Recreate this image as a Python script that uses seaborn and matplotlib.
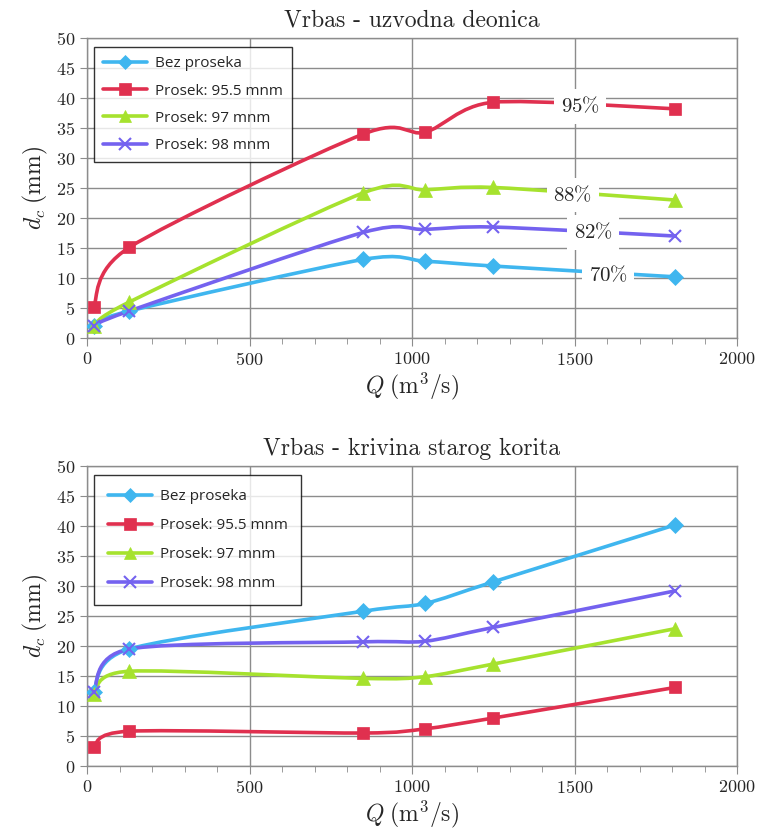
import numpy as np
import matplotlib
matplotlib.use('Agg')
import matplotlib.pyplot as plt
import seaborn as sns
from matplotlib.path import Path
from matplotlib.patches import PathPatch
from matplotlib.lines import Line2D

# =========================
# DATA
# =========================

q = [20, 130, 850, 1040, 1250, 1810]

series_names = ['Bez proseka', 'Prosek: 95.5 mnm', 'Prosek: 97 mnm', 'Prosek: 98 mnm']

# top chart - uzvodna deonica
top_bez = [2.0, 4.5, 13.1, 12.8, 12.0, 10.2]
top_955 = [5.2, 15.1, 34.0, 34.3, 39.3, 38.2]
top_97 = [2.0, 6.0, 24.2, 24.7, 25.1, 23.0]
top_98 = [2.0, 4.5, 17.6, 18.1, 18.5, 17.0]

# bottom chart - krivina starog korita
bot_bez = [12.3, 19.5, 25.8, 27.1, 30.7, 40.2]
bot_955 = [3.2, 5.8, 5.5, 6.2, 8.0, 13.1]
bot_97 = [12.0, 15.8, 14.6, 14.9, 17.0, 22.9]
bot_98 = [12.3, 19.5, 20.7, 20.8, 23.1, 29.2]

# percentage labels on the top chart
pct_labels = ['95', '88', '82', '70']
pct_x = [1517, 1495, 1557, 1603]
pct_y = [38.6, 23.9, 17.6, 10.5]

colors = ['#3fb6ef', '#e0304f', '#a6e22e', '#7462ef']
markers = ['D', 's', '^', 'x']
msizes = [8, 9, 10, 9]

# =========================
# STYLE
# =========================

sns.set_style('white')
plt.rcParams['font.family'] = 'serif'
plt.rcParams['font.serif'] = ['cmr10']
plt.rcParams['mathtext.fontset'] = 'cm'
plt.rcParams['axes.formatter.use_mathtext'] = True


def smooth_path(x, y, k=0.14):
    # excel-like smoothed line (cubic bezier, catmull-rom tangents)
    pts = np.column_stack([x, y]).astype(float)
    n = len(pts)
    verts = [pts[0]]
    codes = [Path.MOVETO]
    for i in range(n - 1):
        p0 = pts[i - 1] if i > 0 else pts[i]
        p1 = pts[i]
        p2 = pts[i + 1]
        p3 = pts[i + 2] if i + 2 < n else pts[i + 1]
        c1 = p1 + (p2 - p0) * k
        c2 = p2 - (p3 - p1) * k
        verts += [c1, c2, p2]
        codes += [Path.CURVE4] * 3
    return Path(verts, codes)


def draw_chart(ax, data, title, lspace, bpad):
    for vals, c, m, ms in zip(data, colors, markers, msizes):
        patch = PathPatch(smooth_path(q, vals), facecolor='none', edgecolor=c,
                          lw=2.6, capstyle='round', joinstyle='round', zorder=3)
        ax.add_patch(patch)
        sns.lineplot(x=q, y=vals, ax=ax, color=c, marker=m, markersize=ms,
                     linestyle='', markeredgecolor=c,
                     markeredgewidth=1.5 if m == 'x' else 0.5, zorder=4)

    ax.set_xlim(0, 2000)
    ax.set_ylim(0, 50)
    ax.set_xticks(np.arange(0, 2001, 500))
    ax.set_xticks(np.arange(0, 2001, 100), minor=True)
    ax.set_yticks(np.arange(0, 51, 5))
    ax.grid(True, which='major', color='#8c8c8c', lw=1.0)
    ax.set_axisbelow(True)
    for s in ax.spines.values():
        s.set_color('#8c8c8c')
        s.set_linewidth(1.0)
    ax.tick_params(axis='both', which='both', direction='out', color='#8c8c8c',
                   labelsize=13, bottom=True, left=True)
    ax.tick_params(axis='x', which='major', length=6)
    ax.tick_params(axis='x', which='minor', length=4)
    ax.tick_params(axis='y', which='major', length=5)
    ax.set_title(title, fontsize=17, pad=8)
    ax.set_xlabel(r'$Q\;(\mathrm{m}^3/\mathrm{s})$', fontsize=17, labelpad=2)
    ax.set_ylabel(r'$d_c\;(\mathrm{mm})$', fontsize=17, labelpad=4)

    handles = [Line2D([0], [0], color=c, lw=2.6, marker=m, markersize=ms * 0.9,
                      markeredgecolor=c, markeredgewidth=1.5 if m == 'x' else 0.5)
               for c, m, ms in zip(colors, markers, msizes)]
    leg = ax.legend(handles, series_names, loc='upper left',
                    bbox_to_anchor=(0.006, 0.98), frameon=True, fancybox=False,
                    prop={'family': 'Open Sans', 'size': 11}, handlelength=2.9,
                    labelspacing=lspace, borderpad=bpad, handletextpad=0.5,
                    borderaxespad=0.2)
    leg.get_frame().set_edgecolor('black')
    leg.get_frame().set_linewidth(1.0)


fig = plt.figure(figsize=(7.58, 8.33), dpi=100)
ax1 = fig.add_axes([0.1148, 0.5942, 0.8575, 0.3601])
ax2 = fig.add_axes([0.1148, 0.0804, 0.8575, 0.3601])

draw_chart(ax1, [top_bez, top_955, top_97, top_98], 'Vrbas - uzvodna deonica', 0.8, 0.6)
draw_chart(ax2, [bot_bez, bot_955, bot_97, bot_98], 'Vrbas - krivina starog korita', 0.92, 0.9)

for lab, x, y in zip(pct_labels, pct_x, pct_y):
    ax1.text(x, y, r'$\mathrm{' + lab + r'\%}$', fontsize=15, ha='center', va='center',
             zorder=5, bbox=dict(facecolor='white', edgecolor='none', pad=5))

fig.savefig('out.png', dpi=100)
